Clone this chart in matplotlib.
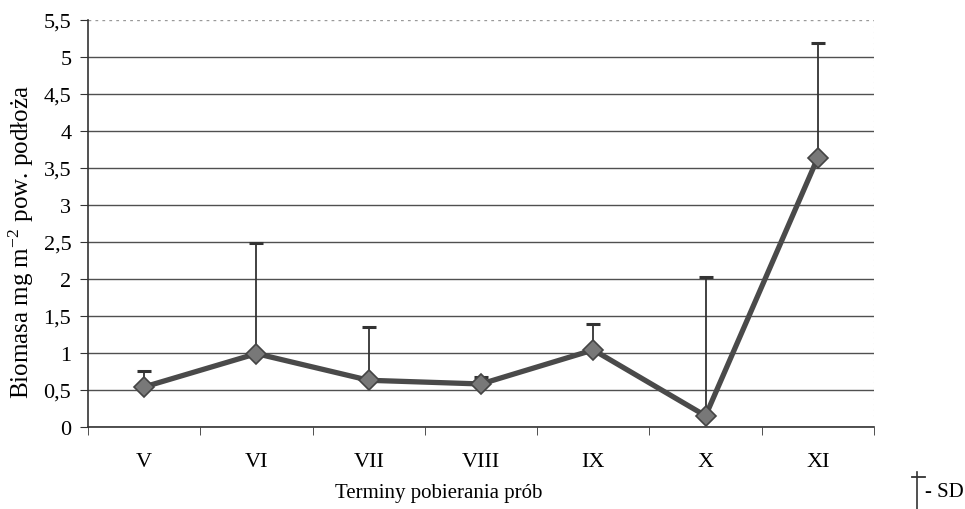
import numpy as np
import matplotlib.pyplot as plt
from matplotlib.lines import Line2D
from matplotlib.ticker import FuncFormatter

plt.rcParams['font.family'] = ['Liberation Serif', 'DejaVu Serif']
plt.rcParams['mathtext.fontset'] = 'stix'

terms = ['V', 'VI', 'VII', 'VIII', 'IX', 'X', 'XI']
biomass = [0.54, 0.99, 0.63, 0.58, 1.04, 0.15, 3.64]
sd_top = [0.75, 2.48, 1.35, 0.68, 1.39, 2.03, 5.19]

x = np.arange(len(terms))
upper = np.array(sd_top) - np.array(biomass)
lower = np.zeros(len(terms))

fig = plt.figure(figsize=(9.65, 5.1), dpi=100)
ax = fig.add_axes([0.0912, 0.161, 0.8145, 0.798])

ax.set_xlim(-0.5, len(terms) - 0.5)
ax.set_ylim(0, 5.5)
ax.set_yticks(np.arange(0, 5.51, 0.5))
ax.yaxis.set_major_formatter(FuncFormatter(lambda v, p: ('%g' % v).replace('.', ',')))
ax.grid(axis='y', color='#505050', linewidth=1.0, zorder=0)
ax.set_axisbelow(True)

ax.errorbar(x, biomass, yerr=[lower, upper], fmt='none', ecolor='#333333',
            elinewidth=1.3, capsize=5, capthick=2.2, zorder=2)
ax.plot(x, biomass, color='#4a4a4a', linewidth=3.8, marker='D', markersize=10,
        markerfacecolor='#787878', markeredgecolor='#444444', markeredgewidth=1.2, zorder=3)

ax.set_xticks(x)
ax.set_xticklabels(terms)
ax.set_xticks(np.arange(-0.5, len(terms), 1), minor=True)
ax.tick_params(axis='x', which='major', length=0, pad=18, labelsize=16)
ax.tick_params(axis='x', which='minor', length=6, direction='out', color='#333333')
ax.tick_params(axis='y', length=6, direction='out', labelsize=16, color='#333333', pad=6)

for side in ['top', 'right']:
    ax.spines[side].set_visible(False)
ax.spines['left'].set_color('#333333')
ax.spines['bottom'].set_color('#333333')
ax.spines['left'].set_linewidth(1.2)
ax.spines['bottom'].set_linewidth(1.2)
ax.axvline(len(terms) - 0.5, color='#aaaaaa', linewidth=0.8, linestyle=(0, (1, 4)))
ax.get_ygridlines()[-1].set_linestyle((0, (2, 3)))
ax.get_ygridlines()[-1].set_color('#999999')

ax.set_ylabel('Biomasa mg m$^{\\mathregular{-2}}$ pow. podłoża', fontsize=18)
ax.yaxis.set_label_coords(-0.066, 0.457)
fig.text(0.455, 0.033, 'Terminy pobierania prób', ha='center', va='center', fontsize=15)

# SD key
fig.add_artist(Line2D([0.950, 0.950], [0.0, 0.0725], color='#333333', linewidth=1.2))
fig.add_artist(Line2D([0.945, 0.9585], [0.063, 0.063], color='#333333', linewidth=1.3))
fig.text(0.9585, 0.035, '- SD', ha='left', va='center', fontsize=15)

fig.savefig('out.png', dpi=100)
